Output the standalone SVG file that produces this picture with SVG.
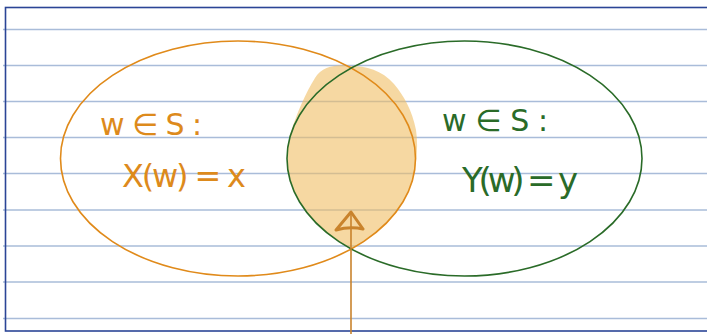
<svg xmlns="http://www.w3.org/2000/svg" width="707" height="334" viewBox="0 0 707 334">
<style>
.rule{stroke:#a9bcd9;stroke-width:1.5}
.hand{font-family:"DejaVu Sans","Liberation Sans",sans-serif}
.or{fill:#dd8a1c}
.gr{fill:#2a6b28}
</style>
<rect width="707" height="334" fill="#ffffff"/>
<g id="paper">
<line class="rule" x1="3" y1="29.5" x2="707" y2="29.5"/>
<line class="rule" x1="3" y1="65.5" x2="707" y2="65.5"/>
<line class="rule" x1="3" y1="101.5" x2="707" y2="101.5"/>
<line class="rule" x1="3" y1="137.5" x2="707" y2="137.5"/>
<line class="rule" x1="3" y1="173.5" x2="707" y2="173.5"/>
<line class="rule" x1="3" y1="210" x2="707" y2="210"/>
<line class="rule" x1="3" y1="246" x2="707" y2="246"/>
<line class="rule" x1="3" y1="282" x2="707" y2="282"/>
<line class="rule" x1="3" y1="318.5" x2="707" y2="318.5"/>
<rect x="5.5" y="7.5" width="720" height="323.5" fill="none" stroke="#2b4596" stroke-width="1.6"/>
</g>
<g id="intersection">
<path d="M350,66 C338,64 322,66 315,78 C306,92 296,115 290,135 C288,145 287,152 287.5,158.5 A177.5 117.5 0 0 0 351,249 C375,236 396,218 406,196 C416,176 419,150 416,130 C412,110 404,96 394,84 C382,70 366,66 350,66 Z" fill="#f0be64" opacity="0.6"/>
</g>
<g id="setX">
<ellipse cx="238" cy="158.5" rx="177.5" ry="117.5" fill="none" stroke="#e08a1a" stroke-width="1.6"/>
<text class="hand or" x="100" y="135" font-size="30" textLength="102" lengthAdjust="spacing">w ∈ S :</text>
<text class="hand or" x="122" y="187" font-size="32" textLength="124" lengthAdjust="spacing">X(w) = x</text>
</g>
<g id="setY">
<ellipse cx="464.5" cy="158.5" rx="177.5" ry="117.5" fill="none" stroke="#2a6b28" stroke-width="1.6"/>
<text class="hand gr" x="442" y="131" font-size="30" textLength="106" lengthAdjust="spacing">w ∈ S :</text>
<text class="hand gr" x="462" y="192" font-size="34" textLength="116" lengthAdjust="spacing">Y(w) = y</text>
</g>
<g id="connectors">
<line x1="351" y1="334" x2="351" y2="213" stroke="#c9832c" stroke-width="1.6"/>
<path d="M336,230 L351,212 L363,229 M336,230 Q350,226 363,229" fill="none" stroke="#c9832c" stroke-width="3" stroke-linecap="round" stroke-linejoin="round"/>
</g>
</svg>
